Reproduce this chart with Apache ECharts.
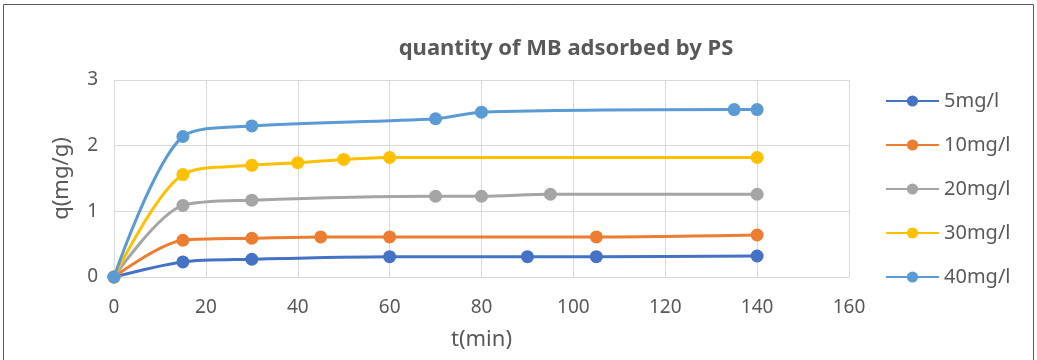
<!DOCTYPE html>
<html>
<head>
<meta charset="utf-8">
<script src="https://cdn.jsdelivr.net/npm/echarts@6/dist/echarts.min.js"></script>
<style>html,body{margin:0;padding:0;background:#fff}#c{width:1037px;height:360px}</style>
</head>
<body>
<div id="c"></div>
<script>
const title = 'quantity of MB adsorbed by PS';
const xName = 't(min)';
const yName = 'q(mg/g)';
const seriesNames = ['5mg/l', '10mg/l', '20mg/l', '30mg/l', '40mg/l'];
const colors = ['#4472C4', '#ED7D31', '#A5A5A5', '#FFC000', '#5B9BD5'];
const t5 = [0, 15, 30, 60, 90, 105, 140];
const q5 = [0, 0.23, 0.27, 0.31, 0.31, 0.31, 0.32];
const t10 = [0, 15, 30, 45, 60, 105, 140];
const q10 = [0, 0.56, 0.59, 0.61, 0.61, 0.61, 0.64];
const t20 = [0, 15, 30, 70, 80, 95, 140];
const q20 = [0, 1.09, 1.17, 1.23, 1.23, 1.26, 1.26];
const t30 = [0, 15, 30, 40, 50, 60, 140];
const q30 = [0, 1.56, 1.70, 1.74, 1.79, 1.82, 1.82];
const t40 = [0, 15, 30, 70, 80, 135, 140];
const q40 = [0, 2.14, 2.30, 2.41, 2.51, 2.55, 2.55];
const allT = [t5, t10, t20, t30, t40];
const allQ = [q5, q10, q20, q30, q40];

const font = 'Noto Sans';
const txt = '#595959';
const chart = echarts.init(document.getElementById('c'));
chart.setOption({
  animation: false,
  backgroundColor: '#fff',
  title: {
    text: title, left: 561, top: 33, textAlign: 'center',
    textStyle: {fontFamily: font, fontSize: 22, fontWeight: 'bold', color: txt}
  },
  graphic: [{
    type: 'rect', shape: {x: 3.5, y: 4.5, width: 1030, height: 400},
    style: {fill: 'none', stroke: '#595959', lineWidth: 1}, silent: true
  }],
  grid: {left: 114, right: 188, top: 80, bottom: 83, containLabel: false},
  legend: {
    orient: 'vertical', left: 880, top: 86, itemGap: 24, itemWidth: 53, itemHeight: 14,
    textStyle: {fontFamily: font, fontSize: 20, color: txt},
    data: seriesNames
  },
  xAxis: {
    type: 'value', min: 0, max: 160, interval: 20,
    name: xName, nameLocation: 'middle', nameGap: 52,
    nameTextStyle: {fontFamily: font, fontSize: 22, color: txt},
    axisLine: {show: true, lineStyle: {color: '#d9d9d9'}},
    axisTick: {show: false},
    axisLabel: {fontFamily: font, fontSize: 19, color: txt, margin: 21},
    splitLine: {show: true, lineStyle: {color: '#d9d9d9', width: 1}}
  },
  yAxis: {
    type: 'value', min: 0, max: 3, interval: 1,
    name: yName, nameLocation: 'middle', nameGap: 41,
    nameTextStyle: {fontFamily: font, fontSize: 22, color: txt},
    axisLine: {show: true, lineStyle: {color: '#d9d9d9'}},
    axisTick: {show: false},
    axisLabel: {fontFamily: font, fontSize: 19, color: txt, margin: 16},
    splitLine: {show: true, lineStyle: {color: '#d9d9d9', width: 1}}
  },
  series: seriesNames.map((n, i) => ({
    name: n, type: 'line', smooth: 0.3,
    data: allT[i].map((t, j) => [t, allQ[i][j]]),
    symbol: 'circle', symbolSize: 13,
    lineStyle: {color: colors[i], width: 3},
    itemStyle: {color: colors[i]}
  }))
});
</script>
</body>
</html>
